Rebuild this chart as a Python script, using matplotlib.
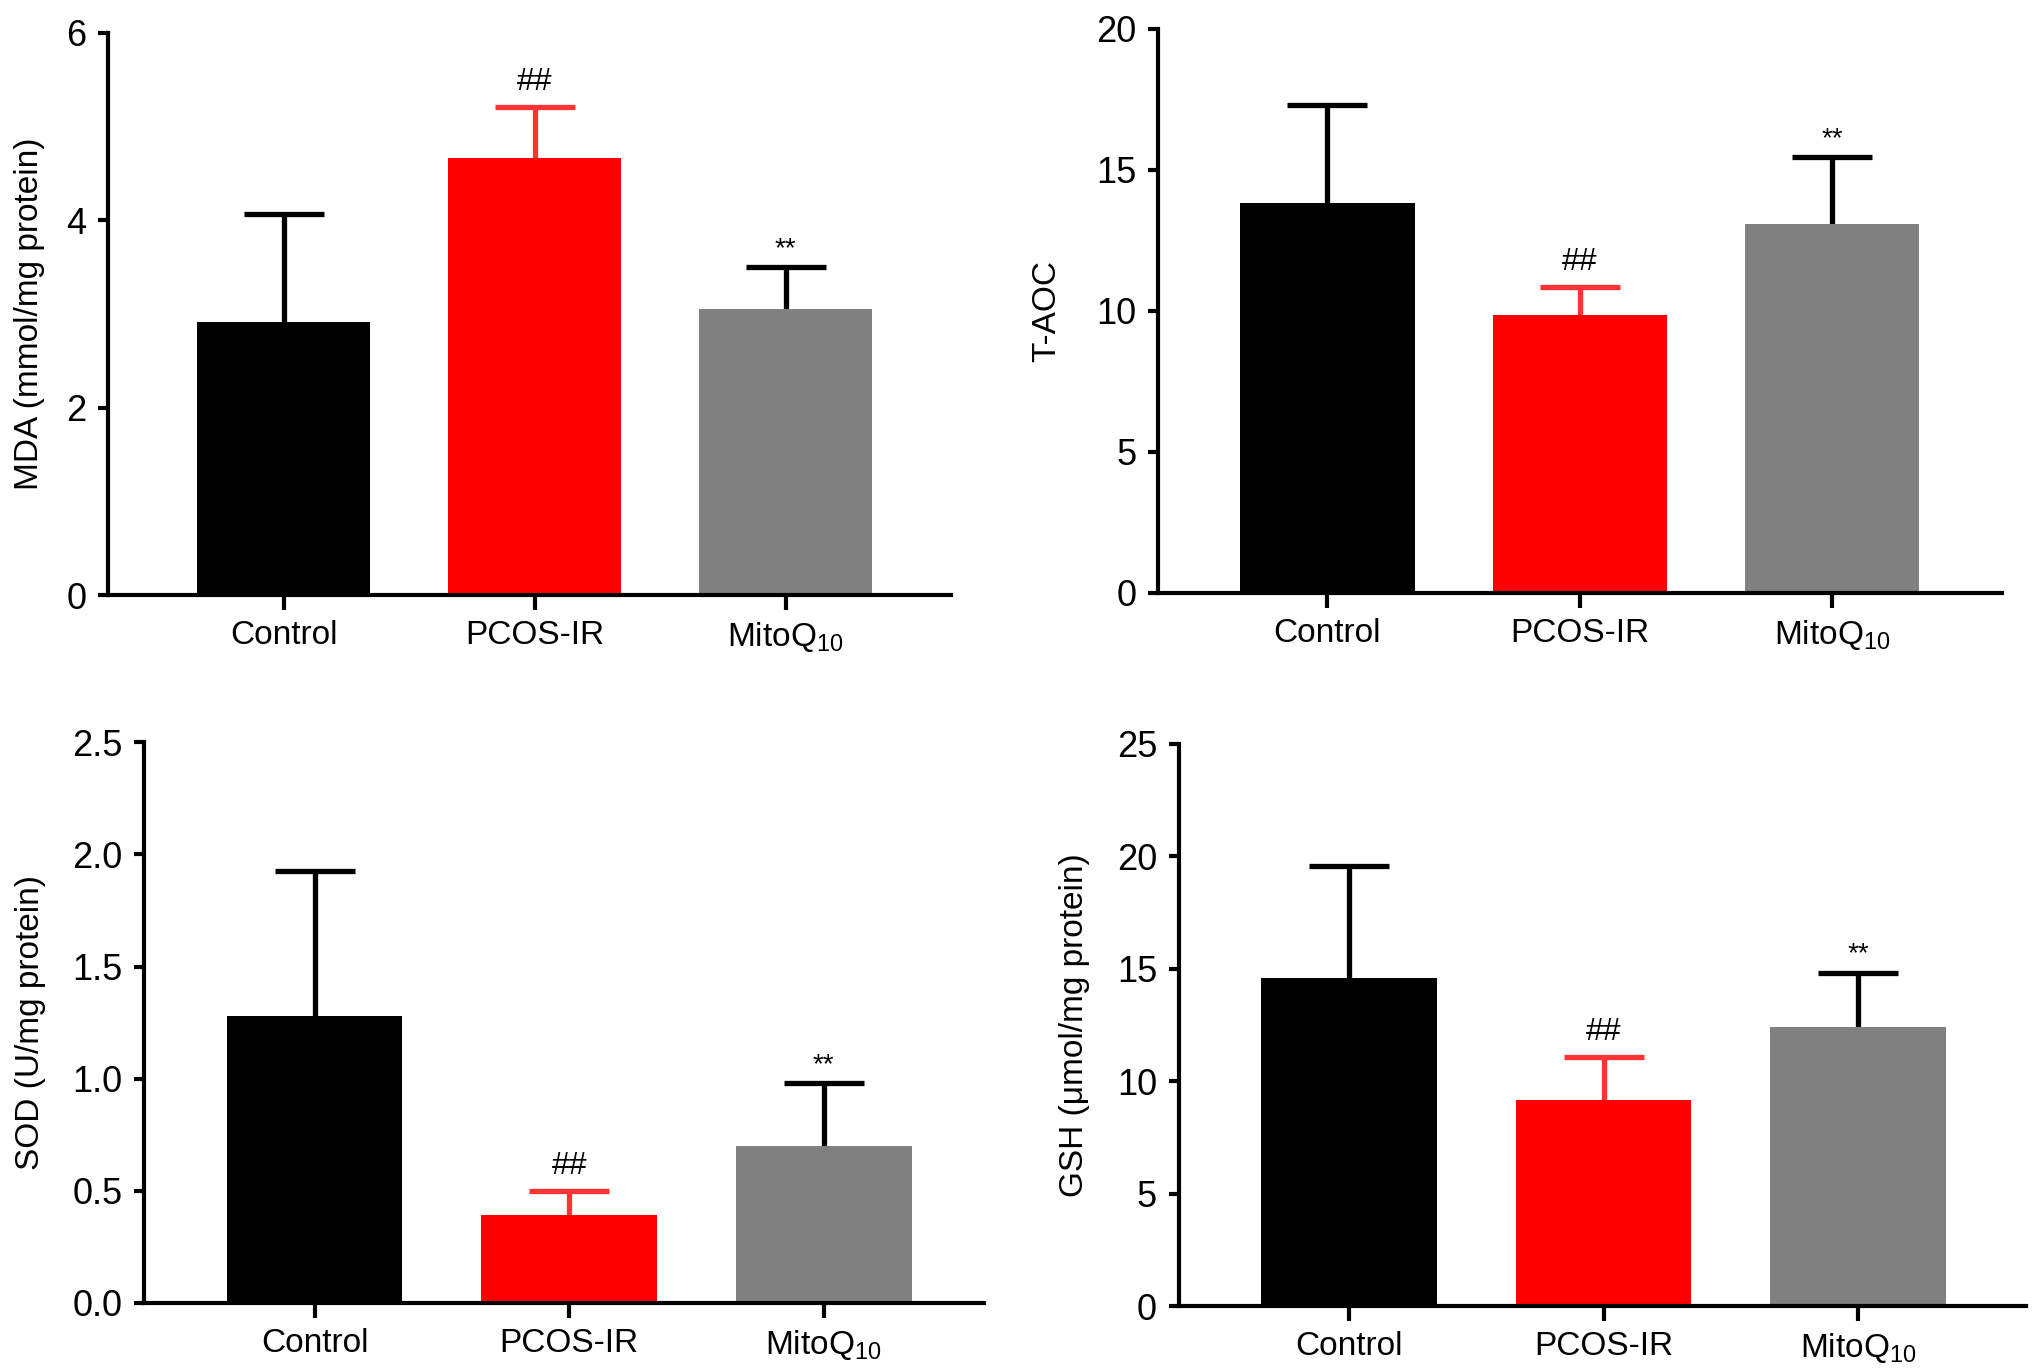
import matplotlib
matplotlib.use("Agg")
import matplotlib.pyplot as plt

plt.rcParams["font.family"] = "Liberation Sans"
plt.rcParams["mathtext.fontset"] = "custom"
plt.rcParams["mathtext.rm"] = "Liberation Sans"
plt.rcParams["mathtext.default"] = "regular"

# Data
groups = ["Control", "PCOS-IR", "MitoQ$_{10}$"]
colors = ["#000000", "#ff0000", "#808080"]
err_colors = ["#000000", "#ff3333", "#000000"]

mda_mean = [2.91, 4.67, 3.05]
mda_err = [1.16, 0.54, 0.45]

taoc_mean = [13.83, 9.84, 13.10]
taoc_err = [3.47, 1.01, 2.35]

sod_mean = [1.28, 0.394, 0.70]
sod_err = [0.645, 0.106, 0.28]

gsh_mean = [14.6, 9.17, 12.4]
gsh_err = [4.95, 1.91, 2.42]

marks = ["", "##", "**"]

panels = [
    dict(mean=mda_mean, err=mda_err, ylabel="MDA (mmol/mg protein)",
         ylim=6, ticks=[0, 2, 4, 6], fmt="{:g}",
         pos=[0.0531, 0.566, 0.415, 0.410], xlim=(-0.70, 2.66), lab_x=-0.074),
    dict(mean=taoc_mean, err=taoc_err, ylabel="T-AOC",
         ylim=20, ticks=[0, 5, 10, 15, 20], fmt="{:g}",
         pos=[0.570, 0.5675, 0.415, 0.4114], xlim=(-0.67, 2.67), lab_x=-0.114),
    dict(mean=sod_mean, err=sod_err, ylabel="SOD (U/mg protein)",
         ylim=2.5, ticks=[0, 0.5, 1.0, 1.5, 2.0, 2.5], fmt="{:.1f}",
         pos=[0.0709, 0.0496, 0.4134, 0.409], xlim=(-0.67, 2.63), lab_x=-0.117),
    dict(mean=gsh_mean, err=gsh_err, ylabel="GSH (\u03bcmol/mg protein)",
         ylim=25, ticks=[0, 5, 10, 15, 20, 25], fmt="{:g}",
         pos=[0.580, 0.0474, 0.417, 0.41], xlim=(-0.67, 2.66), lab_x=-0.104),
]

fig = plt.figure(figsize=(20.32, 13.71), dpi=100)

for p in panels:
    ax = fig.add_axes(p["pos"])
    x = range(len(groups))
    ax.bar(x, p["mean"], width=0.69, color=colors, zorder=2)
    for i in x:
        eb = ax.errorbar(i, p["mean"][i], yerr=[[0], [p["err"][i]]], fmt="none",
                         ecolor=err_colors[i], elinewidth=3.8, capsize=29,
                         capthick=3.8, zorder=1)
        # only the upper cap
        eb[1][0].set_visible(False)
        top = p["mean"][i] + p["err"][i]
        if marks[i] == "##":
            ax.annotate("##", (i, top), xytext=(0, 12),
                        textcoords="offset points", ha="center", va="baseline",
                        fontsize=23)
        elif marks[i] == "**":
            ax.annotate("**", (i, top), xytext=(0, 8),
                        textcoords="offset points", ha="center", va="baseline",
                        fontsize=20)

    ax.set_xlim(*p["xlim"])
    ax.set_ylim(0, p["ylim"])
    ax.set_xticks(list(x))
    ax.set_xticklabels(groups, fontsize=24)
    ax.set_yticks(p["ticks"])
    ax.set_yticklabels([p["fmt"].format(t) for t in p["ticks"]], fontsize=26)
    ax.set_ylabel(p["ylabel"], fontsize=24)
    ax.yaxis.set_label_coords(p["lab_x"], 0.5)

    for s in ["top", "right"]:
        ax.spines[s].set_visible(False)
    for s in ["left", "bottom"]:
        ax.spines[s].set_linewidth(3)
    ax.tick_params(axis="x", length=11, width=3, pad=7)
    ax.tick_params(axis="y", length=7.5, width=3, pad=8)

fig.savefig("out.png", dpi=100)
